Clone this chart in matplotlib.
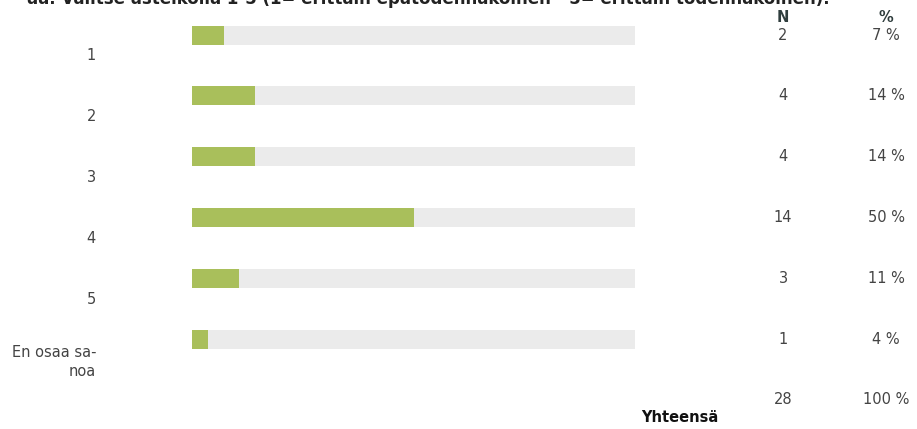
import matplotlib as mpl
mpl.use('Agg')
import matplotlib.pyplot as plt

# Response counts per answer option
categories = ['1', '2', '3', '4', '5', 'En osaa sa-\nnoa']
counts = [2, 4, 4, 14, 3, 1]
percents = [7, 14, 14, 50, 11, 4]
total_n = 28
total_pct = 100
title = ('ää. Valitse asteikolla 1-5 (1= erittäin epätodennäköinen '
         '- 5= erittäin todennäköinen).')

GREEN = '#a9bf5b'
TRACK = '#ebebeb'
TEXT = '#444444'
HEAD = '#2f3d3d'

W, H, DPI = 917, 429, 100
fig = plt.figure(figsize=(W / DPI, H / DPI), dpi=DPI)

# bar area: 192..635 px wide, rows every ~60.8 px starting at y=35
left_px, right_px = 192, 635
row_px, first_px = 60.8, 35
ax = fig.add_axes([left_px / W, 0, (right_px - left_px) / W, 1])
ax.set_xlim(0, 100)
ax.set_ylim((H - first_px) / row_px, -first_px / row_px)
ax.axis('off')

rows = list(range(len(categories)))
bar_h = 19 / row_px
pct_exact = [100.0 * c / total_n for c in counts]
ax.barh(rows, [100] * len(rows), height=bar_h, color=TRACK, linewidth=0)
ax.barh(rows, pct_exact, height=bar_h, color=GREEN, linewidth=0)

tr = ax.get_yaxis_transform()


def xfrac(px):
    return (px - left_px) / (right_px - left_px)


fs = 10.5
for i, (cat, n, p) in enumerate(zip(categories, counts, percents)):
    ax.text(xfrac(96), i + (0.345 if '\n' not in cat else 0.38), cat,
            transform=tr, ha='right', va='center', multialignment='right',
            fontsize=fs, color=TEXT, linespacing=1.35, clip_on=False)
    ax.text(xfrac(783), i, str(n), transform=tr, ha='center', va='center',
            fontsize=fs, color=TEXT, clip_on=False)
    ax.text(xfrac(886), i, f'{p} %', transform=tr, ha='center', va='center',
            fontsize=fs, color=TEXT, clip_on=False)

# column headers
ax.text(xfrac(783), -18 / row_px, 'N', transform=tr, ha='center',
        va='center', fontsize=fs, fontweight='bold', color=HEAD, clip_on=False)
ax.text(xfrac(886), -18 / row_px, '%', transform=tr, ha='center',
        va='center', fontsize=fs, fontweight='bold', color=HEAD, clip_on=False)

# totals row
tot = len(categories)
ax.text(xfrac(783), tot, str(total_n), transform=tr, ha='center',
        va='center', fontsize=fs, color=TEXT, clip_on=False)
ax.text(xfrac(886), tot, f'{total_pct} %', transform=tr, ha='center',
        va='center', fontsize=fs, color=TEXT, clip_on=False)
ax.text(xfrac(680), tot + 18 / row_px, 'Yhteensä', transform=tr,
        ha='center', va='center', fontsize=fs, fontweight='bold',
        color='#111111', clip_on=False)

# question text, running off the top edge
fig.text(830 / W, 1 - 4 / H, title, ha='right', va='baseline',
         fontsize=12, fontweight='bold', color='#222222')

fig.savefig('out.png', dpi=DPI)
